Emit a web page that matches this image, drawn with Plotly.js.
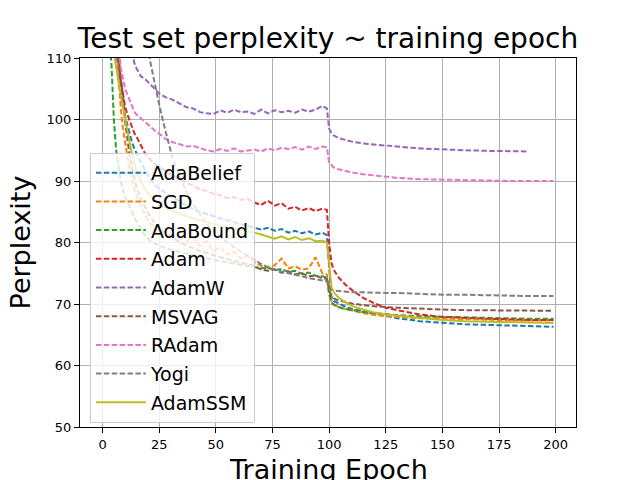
<!DOCTYPE html>
<html>
<head>
<meta charset="utf-8">
<script src="https://cdn.plot.ly/plotly-3.0.1.min.js"></script>
<style>
  body { margin: 0; background: #fff; }
  #chart { width: 640px; height: 480px; }
</style>
</head>
<body>
<div id="chart"></div>
<script>
//------------INPUT DATA------------

const EPOCHS = [1, 2, 3, 4, 5, 6, 7, 8, 9, 10, 11, 12, 13, 14, 15, 17, 19, 21, 23, 25,
  28, 31, 34, 37, 40, 43, 46, 49, 52, 55, 58, 61, 64, 67, 70, 73, 76, 79, 82, 85,
  88, 91, 94, 97, 99, 100, 101, 102, 104, 107, 110, 115, 120, 125, 130, 140, 150, 160, 170, 180,
  188, 199];

const ADABELIEF = [160, 140, 127, 119, 114, 111, 108, 105, 102.5, 100.5, 99, 97.5, 96.3, 95.3, 94.5, 93, 91.6, 90.3, 89.5, 88.8,
  88, 87.3, 86.6, 86, 85.4, 85, 84.6, 84.2, 83.9, 83.6, 83.3, 83.1, 82.8, 82.5, 82.1, 82.4, 81.9, 82.2, 81.6, 81.9,
  81.5, 81.8, 81.3, 81.6, 81.2, 76, 71.2, 70.5, 70.1, 69.6, 69.2, 68.8, 68.4, 68, 67.7, 67.2, 66.9, 66.7, 66.6, 66.5,
  66.4, 66.3];

const SGD = [180, 155, 138, 126, 118, 112, 107, 102, 98.5, 96, 93.5, 91.5, 90, 88.5, 87.5, 86, 84.3, 83, 82.6, 81.8,
  81.6, 81, 81.8, 80.2, 80.8, 79.4, 80.2, 78.6, 79.2, 78, 78.5, 77.4, 77.8, 76.8, 76.2, 75.9, 76.3, 77.4, 75.8, 76.1,
  75.6, 75.8, 77.6, 75, 74.8, 72.5, 70.5, 70, 69.5, 69.2, 68.9, 68.5, 68.2, 68, 67.9, 67.7, 67.6, 67.5, 67.4, 67.4,
  67.3, 67.3];

const ADABOUND = [140, 125, 114, 108.5, 100, 95, 92, 90, 88.5, 87.3, 86.5, 85.8, 85, 84.2, 83.4, 82.2, 81, 80.3, 79.8, 79.5,
  79.1, 78.7, 78.5, 78.2, 78, 77.7, 77.4, 77.2, 77, 76.8, 76.6, 76.4, 76.2, 76, 75.8, 75.9, 75.5, 75.7, 75.2, 75.4,
  74.9, 75.1, 74.6, 74.5, 74.3, 71.5, 70.3, 69.9, 69.5, 69.2, 69, 68.7, 68.5, 68.3, 68.2, 68, 67.9, 67.8, 67.7, 67.7,
  67.6, 67.6];

const ADAM = [220, 180, 155, 137, 125, 117, 111, 106.5, 104, 102, 100.8, 99.8, 99, 97.8, 97.2, 95.8, 94.3, 93.5, 92.8, 92.3,
  91.5, 90.9, 90.3, 89.7, 89.3, 88.6, 88.4, 87.9, 87.7, 87.2, 87.4, 86.9, 87.1, 86.5, 86.1, 86.8, 86, 86.4, 85.5, 85.8,
  85.2, 85.6, 85.1, 85.5, 85.3, 80, 76.7, 75.6, 74.4, 73.2, 72.3, 71, 70.1, 69.4, 69, 68.3, 67.9, 67.7, 67.6, 67.5,
  67.4, 67.4];

const ADAMW = [400, 350, 300, 255, 220, 190, 170, 153, 140, 130, 122, 116, 112, 109.2, 108.3, 107, 106.5, 105.8, 105, 104.2,
  103.6, 103.2, 102.6, 102, 101.8, 101.2, 101, 100.9, 101.5, 101.1, 101.6, 101.2, 101.3, 100.9, 101.6, 101, 101.5, 101.2, 101.4, 101.1,
  101.6, 101.3, 101.6, 102.2, 101.8, 98.5, 97.8, 97.4, 97, 96.7, 96.4, 96.1, 95.9, 95.8, 95.6, 95.3, 95.1, 95, 94.9, 94.9,
  94.8];

const MSVAG = [200, 170, 148, 132, 121, 114, 110, 107, 104, 99.5, 96.5, 94, 92, 90.3, 89, 87, 85.5, 84.2, 83.2, 82.4,
  81.5, 80.7, 80.1, 79.5, 79.1, 78.6, 78.3, 77.9, 77.6, 77.3, 77, 76.8, 76.5, 76.2, 75.6, 75.4, 75.6, 75.1, 75.3, 74.8,
  75, 74.5, 74.6, 74.2, 74.1, 72.3, 71.2, 70.9, 70.6, 70.3, 70.1, 69.8, 69.6, 69.5, 69.4, 69.2, 69.1, 69, 69, 68.9,
  68.9, 68.9];

const RADAM = [300, 230, 180, 155, 135, 120, 113, 108.5, 106.5, 105, 104, 103, 102, 101.3, 100.8, 100.2, 99.5, 98.9, 98.2, 97.7,
  96.8, 96.3, 96, 95.6, 95.7, 95.3, 95, 94.8, 95.2, 94.9, 95.3, 94.8, 95, 95.1, 94.8, 95.3, 95, 95.4, 95.2, 95.5,
  95.1, 95.6, 95.2, 95.6, 95.5, 93, 92.6, 92.2, 91.9, 91.6, 91.4, 91.1, 90.9, 90.7, 90.5, 90.3, 90.2, 90.1, 90.1, 90,
  90, 90];

const YOGI = [600, 520, 460, 400, 350, 310, 280, 250, 225, 205, 188, 172, 160, 148, 138, 124, 115, 109.5, 106, 102.4,
  97.8, 93.6, 90.8, 88.3, 86.2, 84.5, 83, 81.8, 80.8, 80, 79.2, 78.5, 77.9, 77.2, 76.5, 76, 75.6, 75.3, 75, 74.8,
  74.5, 74.2, 74, 73.8, 73.7, 72.8, 72.4, 72.2, 72.1, 72, 71.9, 71.9, 71.8, 71.8, 71.8, 71.6, 71.5, 71.5, 71.4, 71.4,
  71.3, 71.3];

const ADAMSSM = [150, 135, 124, 116, 111, 108.5, 106, 104, 102, 100, 98, 96, 94.3, 92.8, 91.6, 89.8, 88.5, 87.6, 86.9, 86.3,
  85.6, 85.1, 84.7, 84.3, 83.9, 83.6, 83.3, 83, 82.8, 82.5, 82.3, 82.1, 81.9, 81.6, 81.3, 81, 80.6, 81, 80.5, 80.9,
  80.4, 80.7, 80.2, 80.3, 80, 76.7, 72.8, 71.9, 71.1, 70.3, 69.7, 69.1, 68.6, 68.3, 68.1, 67.7, 67.4, 67.2, 67.1, 67,
  66.9, 66.9];

const X_TICKS = [0, 25, 50, 75, 100, 125, 150, 175, 200];
const Y_TICKS = [50, 60, 70, 80, 90, 100, 110];

//------------END INPUT DATA------------

const DASH = "5.5px,2.4px";

function makeTrace(name, values, color, dash) {
  return {
    x: EPOCHS.slice(0, values.length),
    y: values,
    name: name,
    legendgroup: name,
    type: "scatter",
    mode: "lines",
    hoverinfo: "none",
    line: { color: color, width: 2, dash: dash },
  };
}

function perplexityPlot() {
  const data = [
    makeTrace("AdaBelief", ADABELIEF, "#1f77b4", DASH),
    makeTrace("SGD", SGD, "#ff7f0e", DASH),
    makeTrace("AdaBound", ADABOUND, "#2ca02c", DASH),
    makeTrace("Adam", ADAM, "#d62728", DASH),
    makeTrace("AdamW", ADAMW, "#9467bd", DASH),
    makeTrace("MSVAG", MSVAG, "#8c564b", DASH),
    makeTrace("RAdam", RADAM, "#e377c2", DASH),
    makeTrace("Yogi", YOGI, "#7f7f7f", DASH),
    makeTrace("AdamSSM", ADAMSSM, "#bcbd22", "solid"),
  ];

  const axisCommon = {
    showline: true,
    linecolor: "#000",
    linewidth: 1,
    mirror: true,
    ticks: "outside",
    ticklen: 5,
    tickwidth: 1,
    tickcolor: "#000",
    showgrid: true,
    gridcolor: "#b0b0b0",
    gridwidth: 1,
    zeroline: false,
    tickfont: { size: 13, color: "#000" },
  };

  const layout = {
    width: 640,
    height: 480,
    margin: { t: 58, b: 53, l: 80, r: 64 },
    paper_bgcolor: "#fff",
    plot_bgcolor: "#fff",
    font: { family: "DejaVu Sans", color: "#000" },
    title: {
      text: "Test set perplexity ~ training epoch",
      font: { size: 28 },
      x: 0.5,
      xref: "paper",
      y: 0.92,
      yanchor: "middle",
    },
    xaxis: Object.assign({}, axisCommon, {
      range: [-9.95, 208.95],
      tickvals: X_TICKS,
    }),
    yaxis: Object.assign({}, axisCommon, {
      range: [50, 110],
      tickvals: Y_TICKS,
      title: { text: "Perplexity", font: { size: 27 }, standoff: 8 },
    }),
    // x title sits lower than the bottom margin allows, so it is an annotation
    annotations: [
      {
        text: "Training Epoch",
        font: { size: 27 },
        xref: "paper",
        yref: "paper",
        x: 0.5,
        y: -0.114,
        xanchor: "center",
        yanchor: "middle",
        showarrow: false,
      },
    ],
    showlegend: true,
    legend: {
      x: 0.02,
      y: 0.743,
      xanchor: "left",
      yanchor: "top",
      bgcolor: "rgba(255,255,255,0.8)",
      bordercolor: "#cccccc",
      borderwidth: 1,
      font: { size: 19 },
      itemwidth: 50,
      tracegroupgap: 1,
    },
  };

  Plotly.newPlot("chart", data, layout, { staticPlot: true });
}

perplexityPlot();
</script>
</body>
</html>
